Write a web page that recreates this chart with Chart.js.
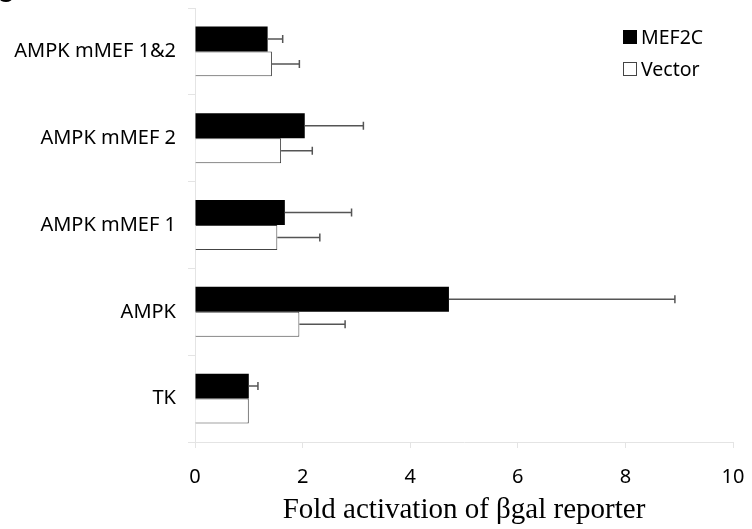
<!DOCTYPE html>
<html>
<head>
<meta charset="utf-8">
<script src="https://cdn.jsdelivr.net/npm/chart.js@4.4.1/dist/chart.umd.min.js"></script>
<style>
  html, body { margin: 0; padding: 0; background: #fff; }
  #wrap { position: relative; width: 752px; height: 529px; overflow: hidden; }
  #panel { position: absolute; left: -4px; top: -22px; font: 26px "Liberation Sans", sans-serif; color: #000; }
</style>
</head>
<body>
<div id="wrap">
  <div id="panel">C</div>
  <canvas id="chart" width="752" height="529"></canvas>
</div>
<script>
"use strict";

// ---- data ----
const categories = ["AMPK mMEF 1&2", "AMPK mMEF 2", "AMPK mMEF 1", "AMPK", "TK"];
const mef2c = [1.35, 2.04, 1.67, 4.72, 1.0];
const mef2cErrTop = [1.63, 3.13, 2.91, 8.92, 1.17];
const vector = [1.43, 1.6, 1.53, 1.94, 1.0];
const vectorErrTop = [1.94, 2.18, 2.32, 2.79, null];
const xTicks = [0, 2, 4, 6, 8, 10];

const SANS = "'Noto Sans', 'DejaVu Sans', sans-serif";

// one-sided error bars, drawn from each bar's end
const errorBars = {
    id: "errorBars",
    afterDatasetsDraw(chart) {
        const { ctx, scales: { x } } = chart;
        const tops = [mef2cErrTop, vectorErrTop];
        ctx.save();
        ctx.strokeStyle = "#555";
        ctx.lineWidth = 1.5;
        chart.data.datasets.forEach((ds, di) => {
            const meta = chart.getDatasetMeta(di);
            meta.data.forEach((bar, i) => {
                const top = tops[di][i];
                if (top == null) return;
                const x1 = x.getPixelForValue(top);
                ctx.beginPath();
                ctx.moveTo(bar.x, bar.y);
                ctx.lineTo(x1, bar.y);
                ctx.moveTo(x1, bar.y - 4);
                ctx.lineTo(x1, bar.y + 4);
                ctx.stroke();
            });
        });
        ctx.restore();
    }
};

// legend in the top-right corner, stacked
const cornerLegend = {
    id: "cornerLegend",
    afterDraw(chart) {
        const { ctx } = chart;
        const items = [
            { text: "MEF2C", fill: "#000", stroke: "#000" },
            { text: "Vector", fill: "#fff", stroke: "#444" }
        ];
        ctx.save();
        ctx.font = "19.5px " + SANS;
        ctx.textBaseline = "middle";
        items.forEach((it, k) => {
            const y = 37 + k * 32;
            ctx.fillStyle = it.fill;
            ctx.fillRect(623, y - 7, 14, 14);
            ctx.strokeStyle = it.stroke;
            ctx.lineWidth = 1;
            ctx.strokeRect(623.5, y - 6.5, 13, 13);
            ctx.fillStyle = "#000";
            ctx.fillText(it.text, 641, y + 1);
        });
        ctx.restore();
    }
};

new Chart(document.getElementById("chart"), {
    type: "bar",
    data: {
        labels: categories,
        datasets: [
            { label: "MEF2C", data: mef2c, backgroundColor: "#000", borderColor: "#000", borderWidth: 0 },
            { label: "Vector", data: vector, backgroundColor: "#fff", borderColor: "#444", borderWidth: 1 }
        ]
    },
    options: {
        indexAxis: "y",
        responsive: false,
        animation: false,
        events: [],
        layout: { padding: { top: 8, right: 19, left: 0, bottom: 0 } },
        datasets: { bar: { barPercentage: 1, categoryPercentage: 0.575 } },
        plugins: { legend: { display: false }, tooltip: { enabled: false } },
        scales: {
            x: {
                min: 0, max: 10,
                afterBuildTicks: (s) => { s.ticks = xTicks.map(v => ({ value: v })); },
                afterFit: (s) => { s.height = 87; s.paddingLeft = 0; s.paddingRight = 0; },
                border: { color: "#e4e4e4", width: 1 },
                grid: { drawOnChartArea: false, drawTicks: true, tickLength: 6, color: "#e4e4e4" },
                ticks: { color: "#000", font: { family: SANS, size: 20 }, padding: 17, maxRotation: 0 },
                title: {
                    display: true,
                    text: "Fold activation of βgal reporter",
                    color: "#000",
                    font: { family: "'Liberation Serif', 'Times New Roman', serif", size: 29 },
                    padding: { top: 0, bottom: 1 }
                }
            },
            y: {
                afterFit: (s) => { s.width = 195; s.paddingTop = 0; s.paddingBottom = 0; },
                border: { color: "#e4e4e4", width: 1 },
                grid: { drawOnChartArea: false, drawTicks: true, tickLength: 7, color: "#e4e4e4", offset: true },
                ticks: { color: "#000", font: { family: SANS, size: 20 }, padding: 12 }
            }
        }
    },
    plugins: [errorBars, cornerLegend]
});
</script>
</body>
</html>
